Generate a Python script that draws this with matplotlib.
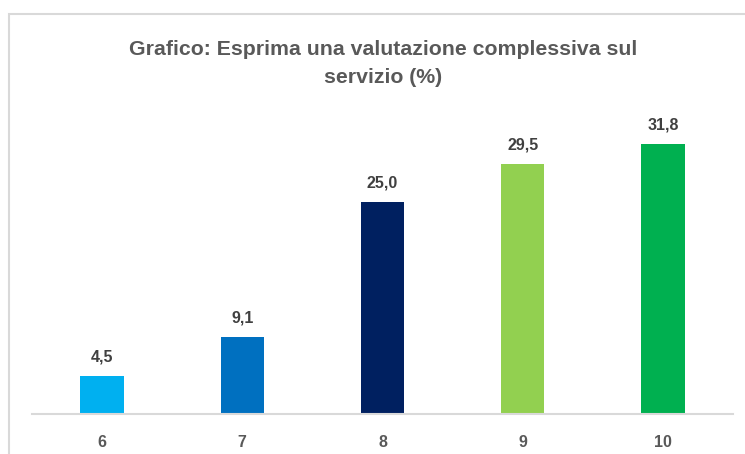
import matplotlib
matplotlib.use("Agg")
import matplotlib.pyplot as plt
from matplotlib.patches import Rectangle

categories = ["6", "7", "8", "9", "10"]
values = [4.5, 9.1, 25.0, 29.5, 31.8]
labels = ["4,5", "9,1", "25,0", "29,5", "31,8"]
colors = ["#00B0F0", "#0070C0", "#002060", "#92D050", "#00B050"]
title = "Grafico: Esprima una valutazione complessiva sul\nservizio (%)"

plt.rcParams['font.family'] = ['Liberation Sans', 'DejaVu Sans']
W, H = 745, 454
fig = plt.figure(figsize=(W/100, H/100), dpi=100)
fig.patch.set_facecolor("white")

# chart border (extends beyond right/bottom edges)
fig.patches.append(Rectangle((9/W, -0.1), 1.2, (H-14)/H + 0.1, transform=fig.transFigure,
                             fill=False, edgecolor="#D9D9D9", linewidth=1.5))

ax = fig.add_axes([32/W, (H-414)/H, (733-32)/W, (414-117)/H])
x = range(len(categories))
ax.bar(x, values, width=0.31, color=colors)
ax.set_xlim(-0.5, len(categories)-0.5)
ax.set_ylim(0, 35)
for i, (v, l) in enumerate(zip(values, labels)):
    ax.text(i, v + 1.35, l, ha="center", va="bottom", fontsize=11.5, fontweight="bold", color="#404040")
ax.set_xticks(list(x))
ax.set_xticklabels(categories, fontsize=11.5, fontweight="bold", color="#595959")
ax.tick_params(axis="x", length=0, pad=15)
ax.set_yticks([])
for s in ["top", "right", "left"]:
    ax.spines[s].set_visible(False)
ax.spines["bottom"].set_color("#D9D9D9")
ax.spines["bottom"].set_linewidth(1.5)
ax.patch.set_alpha(0)

fig.text(383/W, 1 - 63.5/H, title, ha="center", va="center", fontsize=15.3, fontweight="bold",
         color="#595959", linespacing=1.62)

fig.savefig("out.png", dpi=100, facecolor="white")
